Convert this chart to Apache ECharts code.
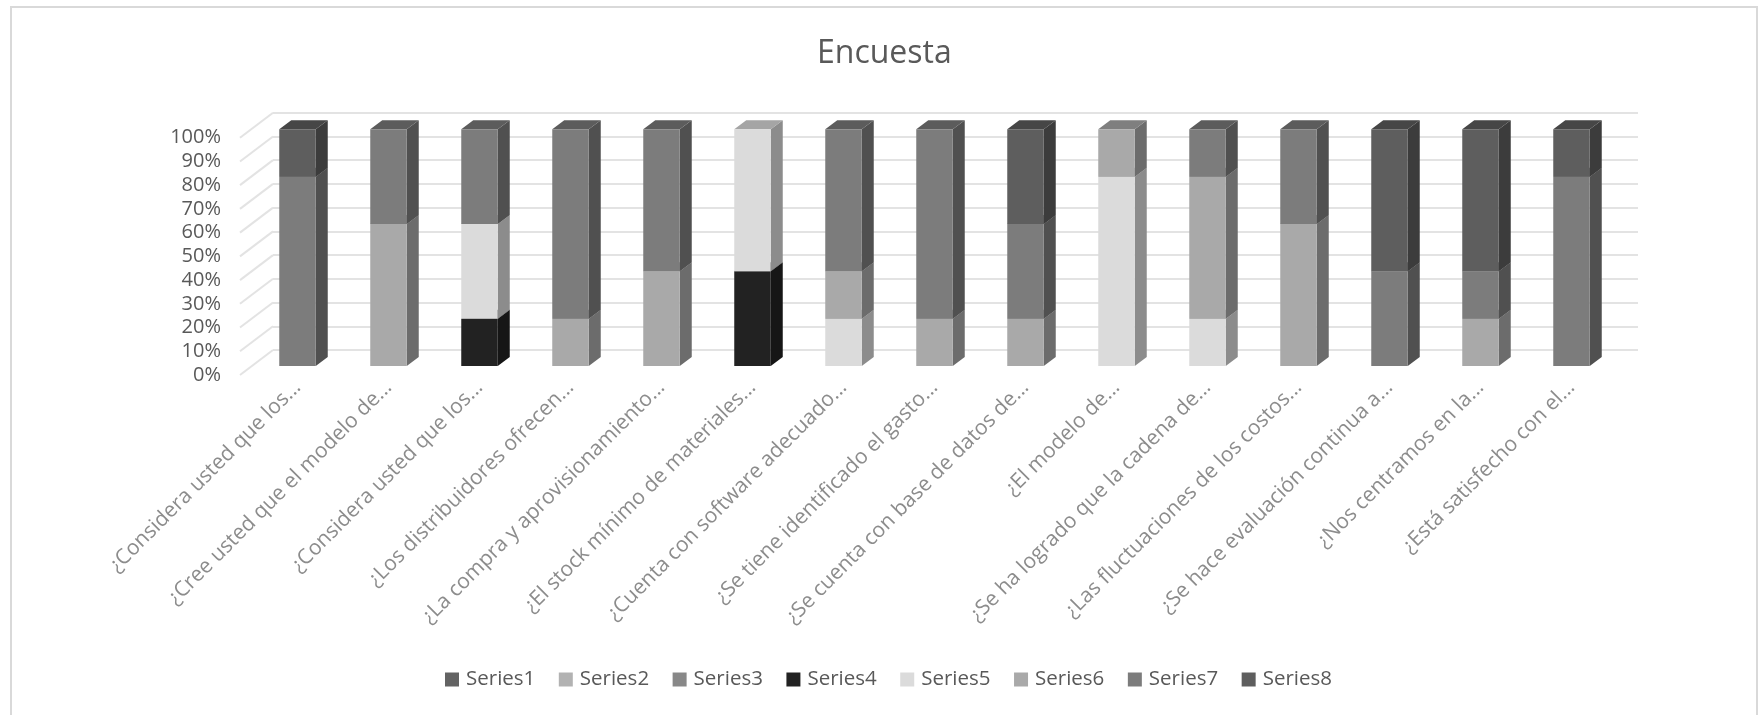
<!DOCTYPE html>
<html>
<head>
<meta charset="utf-8">
<style>html,body{margin:0;padding:0;background:#fff;overflow:hidden}#chart{width:1762px;height:715px}</style>
<script src="https://cdn.jsdelivr.net/npm/echarts@6/dist/echarts.min.js"></script>
</head>
<body>
<div id="chart"></div>
<script>
const categories = [
  '¿Considera usted que los...', '¿Cree usted que el modelo de...', '¿Considera usted que los...',
  '¿Los distribuidores ofrecen...', '¿La compra y aprovisionamiento...', '¿El stock mínimo de materiales...',
  '¿Cuenta con software adecuado...', '¿Se tiene identificado el gasto...', '¿Se cuenta con base de datos de...',
  '¿El modelo de...', '¿Se ha logrado que la cadena de...', '¿Las fluctuaciones de los costos...',
  '¿Se hace evaluación continua a...', '¿Nos centramos en la...', '¿Está satisfecho con el...'
];
const series1 = [0, 0, 0, 0, 0, 0, 0, 0, 0, 0, 0, 0, 0, 0, 0];
const series2 = [0, 0, 0, 0, 0, 0, 0, 0, 0, 0, 0, 0, 0, 0, 0];
const series3 = [0, 0, 0, 0, 0, 0, 0, 0, 0, 0, 0, 0, 0, 0, 0];
const series4 = [0, 0, 20, 0, 0, 40, 0, 0, 0, 0, 0, 0, 0, 0, 0];
const series5 = [0, 0, 40, 0, 0, 60, 20, 0, 0, 80, 20, 0, 0, 0, 0];
const series6 = [0, 60, 0, 20, 40, 0, 20, 20, 20, 20, 60, 60, 0, 20, 0];
const series7 = [80, 40, 40, 80, 60, 0, 60, 80, 40, 0, 20, 40, 40, 20, 80];
const series8 = [20, 0, 0, 0, 0, 0, 0, 0, 40, 0, 0, 0, 60, 60, 20];
const seriesNames = ['Series1', 'Series2', 'Series3', 'Series4', 'Series5', 'Series6', 'Series7', 'Series8'];
const seriesValues = [series1, series2, series3, series4, series5, series6, series7, series8];
const percentTicks = [0, 10, 20, 30, 40, 50, 60, 70, 80, 90, 100];

const frontColors = ['#636363', '#b2b2b2', '#888888', '#222222', '#dbdbdb', '#a9a9a9', '#7c7c7c', '#5e5e5e'];
const sideColors  = ['#3f3f3f', '#727272', '#575757', '#161616', '#8c8c8c', '#6c6c6c', '#505050', '#3c3c3c'];
const topColors   = ['#4a4a4a', '#858585', '#666666', '#1a1a1a', '#a5a5a5', '#7f7f7f', '#5c5c5c', '#464646'];

const BAR_WIDTH = 36.5;
const BAR_DEPTH_X = 12;
const BAR_DEPTH_Y = 9;
const WALL_DEPTH_X = 33;
const WALL_DEPTH_Y = 25;
const TEXT_FONT = '"Open Sans", sans-serif';

// Accumulate the stacked segments of one series: [category, base, top].
function stackedSegments(index) {
  return categories.map((_, c) => {
    let base = 0;
    for (let s = 0; s < index; s++) base += seriesValues[s][c];
    return [c, base, base + seriesValues[index][c]];
  }).filter(d => d[2] > d[1]);
}

// One box segment: front face, right side and top face.
function boxRenderer(index) {
  return function (params, api) {
    const cx = api.coord([api.value(0), 0])[0];
    const y0 = api.coord([0, api.value(1)])[1];
    const y1 = api.coord([0, api.value(2)])[1];
    const l = cx - BAR_WIDTH / 2, r = cx + BAR_WIDTH / 2;
    const dx = BAR_DEPTH_X, dy = BAR_DEPTH_Y;
    return {
      type: 'group',
      children: [
        { type: 'polygon', shape: { points: [[r, y0], [r + dx, y0 - dy], [r + dx, y1 - dy], [r, y1]] },
          style: { fill: sideColors[index] } },
        { type: 'polygon', shape: { points: [[l, y1], [r, y1], [r + dx, y1 - dy], [l + dx, y1 - dy]] },
          style: { fill: topColors[index] } },
        { type: 'rect', shape: { x: l, y: y1, width: BAR_WIDTH, height: y0 - y1 },
          style: { fill: frontColors[index] } }
      ]
    };
  };
}

const barSeries = seriesNames.map((name, i) => ({
  name,
  type: 'custom',
  xAxisIndex: 1,
  yAxisIndex: 1,
  z: 5,
  itemStyle: { color: frontColors[i] },
  encode: { x: 0, y: [1, 2] },
  renderItem: boxRenderer(i),
  data: stackedSegments(i)
}));

// Slanted side-wall gridlines, running from the front plane back to the wall.
const wallSeries = {
  type: 'custom',
  xAxisIndex: 2,
  yAxisIndex: 2,
  z: 1,
  silent: true,
  encode: { y: 0 },
  renderItem(params, api) {
    const left = params.coordSys.x;
    const y = api.coord([0, api.value(0)])[1];
    return {
      type: 'line',
      shape: { x1: left, y1: y, x2: left + WALL_DEPTH_X, y2: y - WALL_DEPTH_Y },
      style: { stroke: '#e3e3e3', lineWidth: 2 }
    };
  },
  data: percentTicks.map(v => [v])
};

const chart = echarts.init(document.getElementById('chart'), null, { renderer: 'canvas' });
chart.setOption({
  animation: false,
  backgroundColor: '#ffffff',
  graphic: [{
    type: 'rect', silent: true, z: 0,
    shape: { x: 11, y: 7, width: 1746, height: 720 },
    style: { fill: 'none', stroke: '#d9d9d9', lineWidth: 2 }
  }],
  title: {
    text: 'Encuesta', left: 812, top: 33,
    textStyle: { fontFamily: TEXT_FONT, fontSize: 32, fontWeight: 'normal', color: '#595959' }
  },
  legend: {
    data: seriesNames, left: 440, top: 664, icon: 'rect', itemWidth: 14, itemHeight: 14,
    itemGap: 23.5, textStyle: { fontFamily: TEXT_FONT, fontSize: 20.5, color: '#595959', padding: [0, 0, 0, 2] }
  },
  grid: [
    { left: 273, top: 112.7, width: 1365, height: 237.3 },
    { left: 252, top: 129.3, width: 1365, height: 236.7 },
    { left: 240, top: 137.7, width: 1365, height: 237.3 }
  ],
  xAxis: [
    { gridIndex: 0, type: 'category', data: categories, show: false },
    { gridIndex: 1, type: 'category', data: categories,
      axisLine: { show: false }, axisTick: { show: false },
      axisLabel: { interval: 0, rotate: 45, margin: 18, fontFamily: TEXT_FONT, fontSize: 21, color: '#8c8c8c' } },
    { gridIndex: 2, type: 'category', data: categories, show: false }
  ],
  yAxis: [
    { gridIndex: 0, type: 'value', min: 0, max: 100, interval: 10,
      axisLine: { show: false }, axisTick: { show: false }, axisLabel: { show: false },
      splitLine: { lineStyle: { color: '#e3e3e3', width: 2 } } },
    { gridIndex: 1, type: 'value', min: 0, max: 100, interval: 10, show: false },
    { gridIndex: 2, type: 'value', min: 0, max: 100, interval: 10,
      axisLine: { show: false }, axisTick: { show: false }, splitLine: { show: false },
      axisLabel: { margin: 19, fontFamily: TEXT_FONT, fontSize: 20, color: '#595959', formatter: '{value}%' } }
  ],
  series: [wallSeries, ...barSeries]
});
</script>
</body>
</html>
